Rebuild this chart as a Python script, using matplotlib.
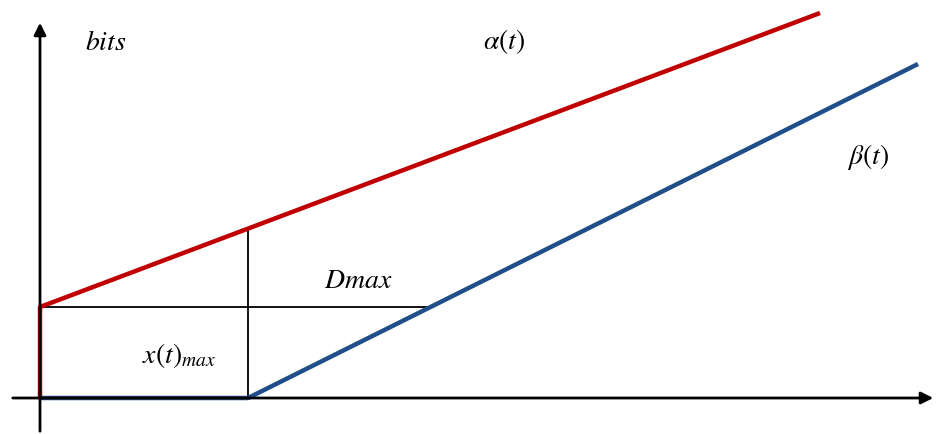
import matplotlib.pyplot as plt

# diagram units: t along the horizontal axis, bits along the vertical one
alpha_t = [0, 0, 780]
alpha_bits = [0, 91, 385]
beta_t = [0, 208, 878]
beta_bits = [0, 0, 334]

burst = alpha_bits[1]
latency = beta_t[1]

# where the guide lines meet the curves
beta_slope = (beta_bits[2] - beta_bits[1]) / (beta_t[2] - beta_t[1])
alpha_slope = (alpha_bits[2] - alpha_bits[1]) / (alpha_t[2] - alpha_t[1])
dmax_end = latency + burst / beta_slope
xmax_top = burst + alpha_slope * latency

plt.rcParams['mathtext.fontset'] = 'stix'

fig = plt.figure(figsize=(9.36, 4.34), dpi=100)
ax = fig.add_axes([0, 0, 1, 1])
ax.set_xlim(-40, 896)
ax.set_ylim(-36, 398)
ax.axis('off')

# axes with arrows
ax.annotate('', xy=(896, 0), xytext=(-30, 0),
            arrowprops=dict(arrowstyle='-|>', color='black', lw=2, mutation_scale=18))
ax.annotate('', xy=(0, 378), xytext=(0, -36),
            arrowprops=dict(arrowstyle='-|>', color='black', lw=2, mutation_scale=18))

# guide lines
ax.plot([0, dmax_end], [burst, burst], color='black', lw=1.3)
ax.plot([latency, latency], [0, xmax_top], color='black', lw=1.3)

# arrival and service curves
ax.plot(alpha_t, alpha_bits, color='#c00000', lw=3.2, solid_capstyle='butt')
ax.plot(beta_t, beta_bits, color='#1f4e89', lw=3.2, solid_capstyle='butt')

fs = 20
ax.text(66, 356, r'$bits$', fontsize=fs, ha='center', va='center')
ax.text(464, 356, r'$\alpha(t)$', fontsize=fs, ha='center', va='center')
ax.text(828, 241, r'$\beta(t)$', fontsize=fs, ha='center', va='center')
ax.text(318, 118, r'$Dmax$', fontsize=fs, ha='center', va='center')
ax.text(139, 42, r'$x(t)_{max}$', fontsize=fs, ha='center', va='center')

plt.savefig('out.png', dpi=100)
